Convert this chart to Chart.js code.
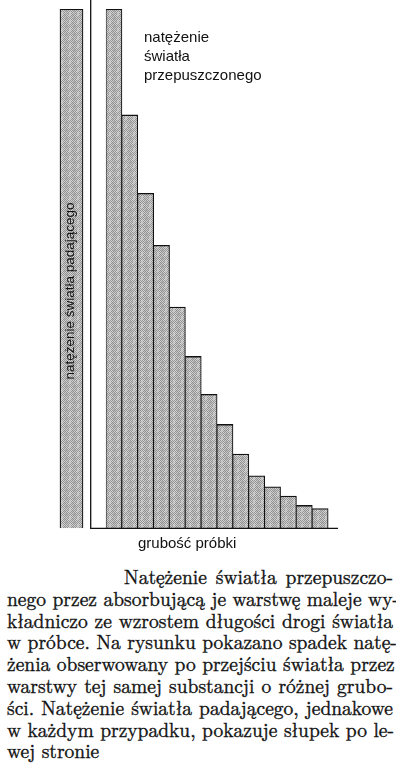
<!DOCTYPE html>
<html>
<head>
<meta charset="utf-8">
<script src="https://cdn.jsdelivr.net/npm/chart.js@4.4.1/dist/chart.umd.min.js"></script>
<style>
  html, body { margin: 0; padding: 0; background: #fff; }
  #wrap { position: relative; width: 396px; height: 764px; overflow: hidden; }
  #chart { position: absolute; left: 0; top: 0; }
  #caption { position: absolute; left: 7px; top: 566px; width: 386px; color: #111; }
  #caption div { white-space: nowrap; text-align: justify; text-align-last: justify; }
  #caption div.first { padding-left: 117px; }
  #caption div.last { text-align-last: left; }
</style>
</head>
<body>
<div id="wrap">
  <canvas id="chart" width="396" height="560"></canvas>
  <div id="caption" style="font-family:'Latin Modern Roman','Liberation Serif',serif; font-size:19.5px; line-height:21.8px; -webkit-text-stroke:0.35px #111;">
    <div class="first">Natężenie światła przepuszczo-</div>
    <div>nego przez absorbującą je warstwę maleje wy-</div>
    <div>kładniczo ze wzrostem długości drogi światła</div>
    <div>w próbce. Na rysunku pokazano spadek natę-</div>
    <div>żenia obserwowany po przejściu światła przez</div>
    <div>warstwy tej samej substancji o różnej grubo-</div>
    <div>ści. Natężenie światła padającego, jednakowe</div>
    <div>w każdym przypadku, pokazuje słupek po le-</div>
    <div class="last">wej stronie</div>
  </div>
</div>
<script>
// ---- data ----
const layers = [1, 2, 3, 4, 5, 6, 7, 8, 9, 10, 11, 12, 13, 14];          // sample thickness (layers)
const transmitted = [100, 79.6, 64.5, 54.5, 42.6, 33.1, 25.8, 20.0, 14.3, 10.1, 8.0, 6.2, 4.4, 3.8];
const incident = [100];
const incidentLabel = 'natężenie światła padającego';
const transmittedLabel = ['natężenie', 'światła', 'przepuszczonego'];
const xTitle = 'grubość próbki';

// ---- layout constants (scale units) ----
const incidentSlot = -1.68;   // where the reference column sits on the x scale
const separatorAt = -0.47;    // vertical separator line position

// halftone-like grey fill: fine checker with lighter blotches
function makePattern() {
  const c = document.createElement('canvas');
  c.width = 8; c.height = 8;
  const g = c.getContext('2d');
  const light = [[1,2],[2,1],[2,3],[5,5],[6,6],[5,7],[6,4],[1,6],[0,7],[3,2],[4,5]];
  for (let y = 0; y < 8; y++) for (let x = 0; x < 8; x++) {
    let v = (x + y) % 2 === 0 ? 0x92 : 0xd2;
    if (light.some(p => p[0] === x && p[1] === y)) v = 0xbc;
    g.fillStyle = 'rgb(' + v + ',' + v + ',' + v + ')';
    g.fillRect(x, y, 1, 1);
  }
  return g.createPattern(c, 'repeat');
}
const ctx = document.getElementById('chart').getContext('2d');
const fill = makePattern();
const ink = '#111';

const decorations = {
  id: 'decorations',
  afterDatasetsDraw(chart) {
    const { ctx, chartArea: a, scales: { x } } = chart;
    ctx.save();
    ctx.strokeStyle = ink;
    ctx.lineWidth = 1.3;
    const sx = x.getPixelForValue(separatorAt);
    ctx.beginPath();
    ctx.moveTo(sx, 0);
    ctx.lineTo(sx, a.bottom);
    ctx.lineTo(a.right, a.bottom);
    ctx.stroke();

    ctx.fillStyle = ink;
    ctx.font = '15px "Liberation Sans", Arial, sans-serif';
    ctx.textAlign = 'left';
    ctx.textBaseline = 'alphabetic';
    const tx = a.left + 85.5;
    transmittedLabel.forEach((t, i) => ctx.fillText(t, tx, a.top + 33 + i * 19));

    ctx.fillText(xTitle, a.left + 79.5, a.bottom + 19.3);

    const bar = chart.getDatasetMeta(0).data[0];
    ctx.font = '13.5px "Liberation Sans", Arial, sans-serif';
    ctx.textAlign = 'center';
    ctx.translate(bar.x + 2.6, a.top + 282);
    ctx.rotate(-Math.PI / 2);
    ctx.fillText(incidentLabel, 0, 0);
    ctx.restore();
  }
};

new Chart(ctx, {
  type: 'bar',
  data: {
    datasets: [
      {
        label: incidentLabel,
        data: incident.map(v => ({ x: incidentSlot, y: v })),
        backgroundColor: fill,
        borderColor: ink,
        borderWidth: { top: 1.3, left: 1.2, right: 1.2, bottom: 0 },
        borderSkipped: 'start',
        barThickness: 23,
        grouped: false
      },
      {
        label: transmittedLabel.join(' '),
        data: layers.map((l, i) => ({ x: l, y: transmitted[i] })),
        backgroundColor: fill,
        borderColor: ink,
        borderWidth: { top: 1.3, left: 0.7, right: 1.1, bottom: 0 },
        borderSkipped: 'start',
        barPercentage: 1,
        categoryPercentage: 1,
        grouped: false
      }
    ]
  },
  options: {
    responsive: false,
    animation: false,
    layout: { padding: { left: 58.5, right: 58, top: 9, bottom: 31.7 } },
    plugins: { legend: { display: false }, tooltip: { enabled: false } },
    scales: {
      x: {
        type: 'linear', display: false, min: -2.5, max: 15.12, offset: false,
        ticks: { stepSize: 1, includeBounds: false },
        grid: { display: false, offset: false }
      },
      y: { display: false, min: 0, max: 100 }
    }
  },
  plugins: [decorations]
});
</script>
</body>
</html>
